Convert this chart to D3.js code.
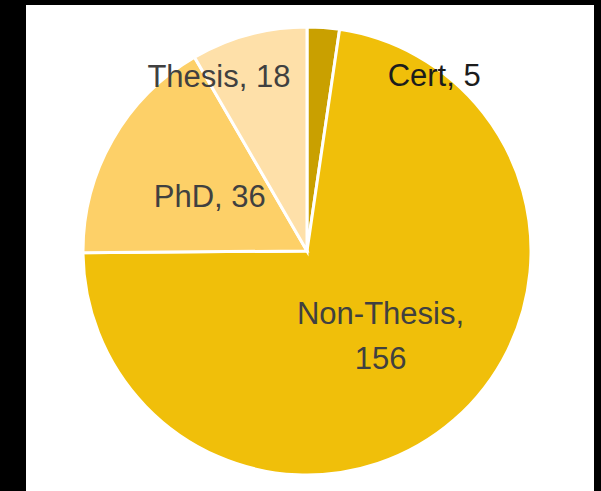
<!DOCTYPE html>
<html>
<head>
<meta charset="utf-8">
<script src="https://cdn.jsdelivr.net/npm/d3@7"></script>
<style>
  body { margin: 0; background: #000; }
  svg { display: block; }
</style>
</head>
<body>
<div id="pie"></div>
<script>
// data
var categories = ["Cert", "Non-Thesis", "PhD", "Thesis"];
var values = [5, 156, 36, 18];
var colors = ["#C9A000", "#F0BF0A", "#FDD068", "#FEE0A9"];

// set the dimensions of the graph
var width = 601,
    height = 491,
    radius = 224,
    cx = 307,
    cy = 251;

var svg_pie = d3.select("#pie")
    .append("svg")
    .attr("width", width)
    .attr("height", height);

// black frame + white plot panel
svg_pie.append("rect")
    .attr("width", width)
    .attr("height", height)
    .attr("fill", "#000");
svg_pie.append("rect")
    .attr("x", 26)
    .attr("y", 5)
    .attr("width", 568)
    .attr("height", height - 5)
    .attr("fill", "#fff");

var g = svg_pie.append("g")
    .attr("transform", "translate(" + cx + "," + cy + ")");

var data = categories.map(function(c, i) { return {name: c, value: values[i]}; });

var color = d3.scaleOrdinal()
    .domain(categories)
    .range(colors);

var pie = d3.pie()
    .value(function(d) { return d.value; })
    .sort(null);

var arc = d3.arc()
    .innerRadius(0)
    .outerRadius(radius);

var arcs = pie(data);

g.selectAll(".slice")
    .data(arcs)
    .enter()
    .append("path")
    .attr("class", "slice")
    .attr("d", arc)
    .attr("fill", function(d) { return color(d.data.name); })
    .attr("stroke", "#fff")
    .attr("stroke-width", 3)
    .attr("stroke-linejoin", "miter");

// labels sit on the centroid, except two that excel pushed aside
var nudge = {"Thesis": [-59, -67], "Cert": [119, -64]};
var lineHeight = 45;

var labels = g.selectAll(".label")
    .data(arcs)
    .enter()
    .append("text")
    .attr("class", "label")
    .attr("transform", function(d) {
        var c = arc.centroid(d);
        var n = nudge[d.data.name] || [0, 0];
        return "translate(" + (c[0] + n[0]) + "," + (c[1] + n[1]) + ")";
    })
    .style("text-anchor", "middle")
    .style("font-family", "'Liberation Sans', Arial, sans-serif")
    .style("font-size", "31px")
    .attr("fill", function(d) { return d.data.name == "Cert" ? "#1c1c1c" : "#404040"; });

labels.each(function(d) {
    var t = d3.select(this);
    var lines = d.data.name == "Non-Thesis"
        ? [d.data.name + ",", String(d.data.value)]
        : [d.data.name + ", " + d.data.value];
    var first = -(lines.length - 1) * lineHeight / 2;
    lines.forEach(function(l, i) {
        t.append("tspan")
            .attr("x", 0)
            .attr("y", first + i * lineHeight)
            .attr("dy", "0.36em")
            .text(l);
    });
});
</script>
</body>
</html>
